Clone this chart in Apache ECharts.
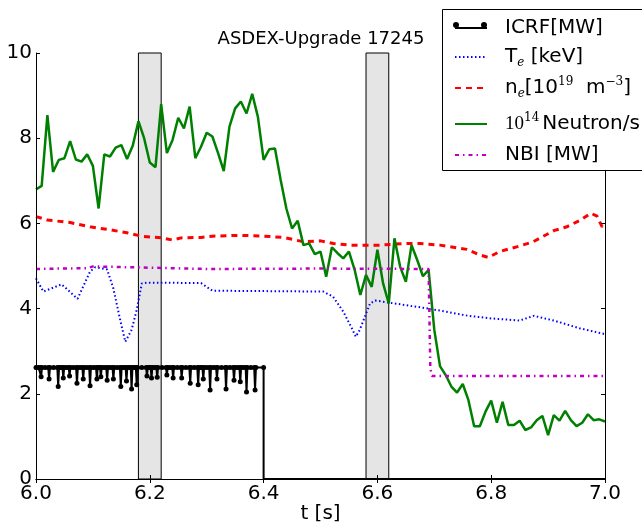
<!DOCTYPE html>
<html><head><meta charset="utf-8">
<script src="https://cdn.jsdelivr.net/npm/echarts@6/dist/echarts.min.js"></script>
<style>html,body{margin:0;padding:0;background:#fff}#c{width:642px;height:525px}</style>
</head><body><div id="c"></div>
<script>
// ---- data ----
const xTicks = [6.0, 6.2, 6.4, 6.6, 6.8, 7.0];
const yTicks = [0, 2, 4, 6, 8, 10];
const bandStart = [6.18, 6.58];
const bandEnd = [6.22, 6.62];

// Neutron rate (1e14 /s), sampled every 0.01 s from 6.00
const neutronT0 = 6.00, neutronDt = 0.01;
const neutronV = [6.80,6.88,8.54,7.21,7.49,7.53,7.93,7.50,7.45,7.62,
  7.35,6.35,7.62,7.57,7.78,7.84,7.51,7.82,8.40,8.00,
  7.43,7.32,8.80,7.65,7.96,8.48,8.23,8.74,7.53,7.80,
  8.13,8.04,7.65,7.23,8.27,8.70,8.86,8.58,9.04,8.50,
  7.49,7.74,7.76,7.02,6.35,5.88,6.06,5.49,5.53,5.28,
  5.34,4.75,5.44,5.30,5.18,5.34,4.91,4.32,4.79,4.51,
  5.38,4.59,4.12,5.65,4.98,4.63,5.49,5.14,4.76,4.91,
  3.50,2.65,2.44,2.17,2.03,2.23,1.85,1.24,1.24,1.58,
  1.84,1.32,1.81,1.27,1.27,1.37,1.15,1.21,1.38,1.48,
  1.03,1.50,1.37,1.60,1.38,1.24,1.32,1.52,1.38,1.40,1.35];

// Te (keV)
const teT = [6.000,6.013,6.045,6.073,6.095,6.104,6.125,6.136,6.148,6.157,6.168,6.177,6.186,6.195,
  6.290,6.310,6.505,6.522,6.540,6.555,6.562,6.569,6.578,6.587,6.596,6.680,6.720,6.760,6.800,
  6.850,6.875,6.910,6.955,7.000];
const teV = [4.71,4.40,4.57,4.23,4.87,4.97,4.92,4.47,3.73,3.22,3.50,3.97,4.59,4.61,
  4.60,4.42,4.40,4.28,3.93,3.54,3.34,3.50,3.81,4.12,4.19,4.02,3.93,3.83,3.77,
  3.72,3.83,3.72,3.54,3.40];

// ne (1e19 m^-3)
const neT = [6.000,6.020,6.060,6.095,6.130,6.160,6.185,6.220,6.240,6.255,6.290,6.310,6.360,6.400,
  6.435,6.470,6.500,6.523,6.550,6.605,6.650,6.675,6.710,6.757,6.780,6.795,6.815,6.850,6.874,
  6.910,6.933,6.957,6.975,6.986,6.995,7.000];
const neV = [6.16,6.08,6.02,5.92,5.85,5.78,5.70,5.66,5.61,5.66,5.67,5.70,5.72,5.70,
  5.67,5.57,5.59,5.53,5.49,5.49,5.53,5.53,5.49,5.39,5.26,5.20,5.34,5.47,5.57,
  5.83,5.92,6.08,6.24,6.17,5.92,6.00];

// NBI (MW)
const nbiT = [6.000,6.090,6.100,6.300,6.500,6.690,6.693,6.696,6.800,7.000];
const nbiV = [4.93,4.95,4.99,4.93,4.94,4.93,2.60,2.42,2.42,2.42];

// ICRF (MW): flat top with dips
const icrfTop = 2.62, icrfOffT = 6.40;
const icrfDipT = [6.009,6.023,6.039,6.048,6.059,6.072,6.083,6.095,6.107,6.114,6.125,6.136,6.149,6.159,
  6.168,6.177,6.195,6.203,6.213,6.230,6.241,6.256,6.271,6.285,6.294,6.306,6.318,6.334,6.348,
  6.359,6.370,6.385];
const icrfDipV = [2.40,2.35,2.17,2.37,2.42,2.25,2.35,2.19,2.35,2.40,2.32,2.35,2.17,2.30,
  2.11,2.21,2.42,2.37,2.39,2.44,2.37,2.37,2.25,2.21,2.35,2.09,2.35,2.11,2.32,
  2.28,2.04,2.09];

// ---- build series data ----
const neutronData = neutronV.map((v,i)=>[+(neutronT0+i*neutronDt).toFixed(2), v]);
const teData = teT.map((t,i)=>[t, teV[i]]);
const neData = neT.map((t,i)=>[t, neV[i]]);
const nbiData = nbiT.map((t,i)=>[t, nbiV[i]]);
const icrfData = [[6.0, icrfTop]];
icrfDipT.forEach((t,i)=>{
  const prev = i === 0 ? 6.0 : icrfDipT[i-1];
  icrfData.push([(prev+t)/2, icrfTop]);
  icrfData.push([t-0.0015, icrfTop]);
  icrfData.push([t, icrfDipV[i]]);
  icrfData.push([t+0.0015, icrfTop]);
});
icrfData.push([icrfOffT, icrfTop],
  {value:[icrfOffT, 0], symbol:'none'}, {value:[7.0, 0], symbol:'none'});

const FONT = 'DejaVu Sans';
const legendNames = ['ICRF','Te','ne','Neutron','NBI'];
const legendTop = [18, 47, 76, 112, 145];
const labelMap = {
  'ICRF': '{r|ICRF[MW]}',
  'Te': '{r|T}{sub|e}{r| [keV]}',
  'ne': '{r|n}{sub|e}{r|[10}{sup|19}{r|  m}{sup|−3}{r|]}',
  'Neutron': '{m|10}{sup|14}{rn|Neutron/s}',
  'NBI': '{r|NBI [MW]}'
};
const rich = {
  r:{fontFamily:FONT, fontSize:20, lineHeight:24, color:'#000'},
  rn:{fontFamily:FONT, fontSize:20, lineHeight:24, color:'#000', padding:[0,0,0,3]},
  m:{fontFamily:'Liberation Serif', fontSize:19, lineHeight:24, color:'#000'},
  sub:{fontFamily:'DejaVu Serif', fontStyle:'italic', fontSize:12, lineHeight:12, verticalAlign:'bottom', color:'#000'},
  sup:{fontFamily:'DejaVu Serif', fontSize:12, lineHeight:12, verticalAlign:'top', color:'#000'}
};
const legends = legendNames.map((n,i)=>({
  orient:'vertical', left:454, top:legendTop[i], padding:0,
  itemWidth:32, itemHeight:14, z:30,
  data:[{name:n, itemStyle:{opacity:0}}],
  formatter:nm=>labelMap[nm],
  textStyle:{color:'#000', padding:[0,0,0,13], rich:rich}
}));

const chart = echarts.init(document.getElementById('c'), null, {renderer:'canvas'});
const axisCommon = {
  type:'value',
  axisLine:{show:true, lineStyle:{color:'#000', width:1}},
  axisTick:{show:true, inside:true, length:4, lineStyle:{color:'#000'}},
  splitLine:{show:false},
  z: 10
};
chart.setOption({
  animation:false,
  backgroundColor:'#fff',
  title:{text:'ASDEX-Upgrade 17245', left:'center', top:25,
    textStyle:{fontFamily:FONT, fontSize:18, fontWeight:'normal', color:'#000'}},
  grid:{left:36, right:37, top:53, bottom:46, containLabel:false, outerBoundsMode:'none'},
  xAxis:[
    Object.assign({}, axisCommon, {min:6, max:7, interval:0.2, position:'bottom',
      name:'t [s]', nameLocation:'middle', nameGap:25, nameMoveOverlap:false,
      nameTextStyle:{fontFamily:FONT, fontSize:20, color:'#000'},
      axisLabel:{fontFamily:FONT, fontSize:20, color:'#000', margin:5,
        formatter:v=>v.toFixed(1)}}),
    Object.assign({}, axisCommon, {min:6, max:7, interval:0.2, position:'top',
      axisLabel:{show:false}})
  ],
  yAxis:[
    Object.assign({}, axisCommon, {min:0, max:10, interval:2, position:'left',
      axisLabel:{fontFamily:FONT, fontSize:20, color:'#000', margin:4}}),
    Object.assign({}, axisCommon, {min:0, max:10, interval:2, position:'right',
      axisLabel:{show:false}})
  ],
  graphic:[{type:'rect', z:25, silent:true,
    shape:{x:442.5, y:9.5, width:220, height:161},
    style:{fill:'#fff', stroke:'#000', lineWidth:1}},
    // ICRF legend end markers (matplotlib draws a marker at each end of the legend line)
    {type:'circle', z:40, silent:true, shape:{cx:456, cy:25, r:3}, style:{fill:'#000'}},
    {type:'circle', z:40, silent:true, shape:{cx:484, cy:25, r:3}, style:{fill:'#000'}}
  ],
  legend:legends,
  series:[
    {name:'bands', type:'line', data:[], z:1,
      markArea:{silent:true, z:1,
        itemStyle:{color:'#e5e5e5', borderColor:'#000', borderWidth:1},
        data: bandStart.map((s,i)=>[{xAxis:s},{xAxis:bandEnd[i]}])}},
    {name:'ICRF', type:'line', data:icrfData, z:3,
      symbol:'circle', symbolSize:5, showSymbol:true, showAllSymbol:true,
      lineStyle:{color:'#000', width:2}, itemStyle:{color:'#000'}},
    {name:'Te', type:'line', data:teData, z:3, symbol:'none',
      lineStyle:{color:'#0000ff', width:2, type:[1.5,2.5]}, itemStyle:{color:'#0000ff'}},
    {name:'ne', type:'line', data:neData, z:3, symbol:'none',
      lineStyle:{color:'#ff0000', width:3, type:[6,5]}, itemStyle:{color:'#ff0000'}},
    {name:'Neutron', type:'line', data:neutronData, z:3, symbol:'none',
      lineStyle:{color:'#008000', width:2.5}, itemStyle:{color:'#008000'}},
    {name:'NBI', type:'line', data:nbiData, z:3, symbol:'none',
      lineStyle:{color:'#bf00bf', width:2.5, type:[4,4,1.5,4]}, itemStyle:{color:'#bf00bf'}}
  ]
});
</script>
</body></html>
